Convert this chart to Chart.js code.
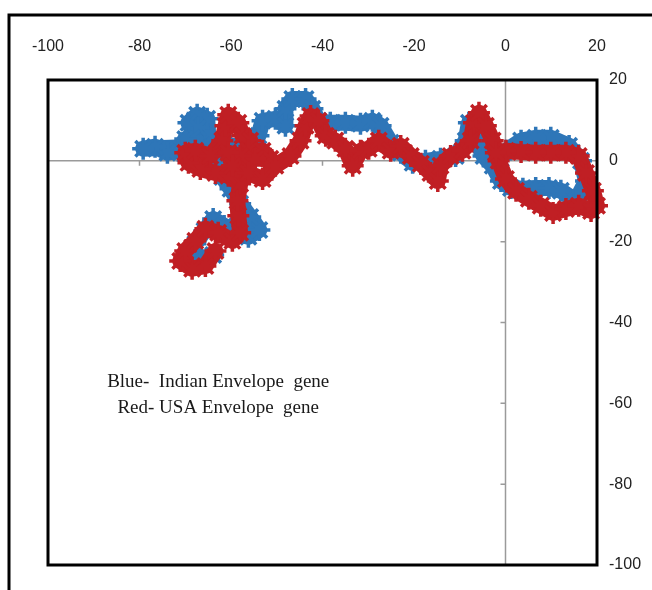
<!DOCTYPE html>
<html>
<head>
<meta charset="utf-8">
<script src="https://cdn.jsdelivr.net/npm/chart.js@4/dist/chart.umd.min.js"></script>
<style>
  html, body { margin: 0; padding: 0; background: #ffffff; }
  #wrap { width: 652px; height: 590px; position: relative; }
</style>
</head>
<body>
<div id="wrap"><canvas id="c" width="652" height="590"></canvas></div>
<script>
// ---- data ----
const xTicks = [-100, -80, -60, -40, -20, 0, 20];
const yTicks = [-100, -80, -60, -40, -20, 0, 20];

const blueX = [-63.9,-66.7,-69.6,-67.8,-65.8,-63.9,-61.5,-58.8,-56.2,-53.8,-55.8,-58.0,-60.1,-61.9,-63.4,-64.5,-66.7,-65.0,-65.2,-67.4,-69.3,-67.2,-68.5,-70.0,-71.5,-73.9,-76.6,-79.2,
  -63.4,-60.1,-56.9,-54.0,-53.1,-50.3,-48.1,-48.1,-46.6,-43.7,-42.2,-40.9,-38.3,-35.0,-31.7,-29.1,-27.3,-25.1,-22.9,-20.3,-17.5,-14.2,-10.9,-8.7,-8.0,-6.5,-4.8,-2.8,-1.0,1.2,3.8,6.6,9.5,12.1,15.4,17.6,16.5,13.9,9.9,6.6,3.4,0.1,-1.0];
const blueY = [-23.3,-24.3,-23.3,-20.5,-17.3,-14.4,-16.1,-18.1,-18.8,-17.1,-13.9,-10.6,-6.9,-4.0,-0.7,2.5,4.5,6.9,10.4,11.4,9.4,8.2,5.7,5.4,2.5,2.0,3.5,3.0,
  3.7,3.7,3.7,6.2,9.9,10.4,8.7,12.9,15.3,15.3,12.9,9.9,9.4,9.4,9.2,9.9,8.7,4.5,2.0,-0.5,0,0.5,1.2,5.0,9.4,5.0,1.2,-1.2,-5.0,-6.7,-6.9,-6.7,-6.7,-7.4,-9.9,-5.0,0,3.7,5.7,5.7,5.0,2.5,0.5];

const redX = [-63.4,-65.6,-68.5,-71.1,-70.0,-67.8,-65.6,-62.8,-59.7,-58.0,-58.4,-58.6,-58.0,-60.6,-63.4,-66.7,-69.3,-70.0,-67.8,-64.5,
  -61.9,-61.2,-60.6,-58.4,-57.5,-55.8,-56.2,-53.1,-51.4,-54.7,-58.0,-60.6,-59.7,-56.2,-53.1,-50.3,-47.0,-44.8,-43.7,-42.6,-40.9,-39.3,-37.2,-35.0,-33.4,
  -31.7,-29.9,-27.7,-25.1,-22.9,-20.7,-18.5,-16.4,-14.8,-14.2,-12.0,-9.4,-7.6,-6.9,-5.8,-4.3,-2.8,-1.5,0.1,2.3,
  5.1,7.7,10.4,13.2,16.0,18.7,20.0,19.1,17.6,16.0,13.2,9.9,6.6,3.4,0.1,-2.1];
const redY = [-22.3,-26.0,-26.7,-24.8,-22.3,-19.8,-16.8,-17.8,-19.8,-17.8,-13.6,-9.9,-5.7,-3.7,-3.0,-2.0,-0.5,2.0,2.5,1.2,
  5.0,8.7,11.4,9.4,6.2,5.0,2.5,2.5,0.5,0.5,1.2,2.0,-1.2,-3.0,-4.5,-1.2,1.2,5.0,8.7,11.1,9.9,6.2,5.0,3.0,-1.2,
  2.5,3.0,5.0,2.5,3.7,1.2,-0.7,-3.0,-5.0,-1.2,1.2,2.5,5.0,9.4,11.9,8.7,5.0,0,-4.5,-7.4,
  -9.4,-11.1,-12.9,-11.9,-11.1,-12.4,-11.1,-7.4,-3.0,1.2,2.0,2.0,2.0,2.2,2.5,2.0];

const noteLines = ["Blue-  Indian Envelope  gene", "Red- USA Envelope  gene"];
const noteX = -62.8;
const noteY = [-54.7, -61.1];

const BLUE = '#2e76b8';
const RED = '#c01f24';

function pts(xs, ys) { return xs.map((x, i) => ({ x: x, y: ys[i] })); }

const framePlugin = {
  id: 'frame',
  beforeDraw(chart) {
    const ctx = chart.ctx;
    ctx.save();
    ctx.fillStyle = '#ffffff';
    ctx.fillRect(0, 0, chart.width, chart.height);
    ctx.restore();
  },
  beforeDatasetsDraw(chart) {
    const ctx = chart.ctx, a = chart.chartArea;
    const xs = chart.scales.x, ys = chart.scales.y;
    const x0 = xs.getPixelForValue(0), y0 = ys.getPixelForValue(0);
    ctx.save();
    ctx.strokeStyle = '#9a9a9a';
    ctx.lineWidth = 1.5;
    ctx.beginPath();
    ctx.moveTo(x0, a.top); ctx.lineTo(x0, a.bottom);
    ctx.moveTo(a.left, y0); ctx.lineTo(a.right, y0);
    xTicks.forEach(v => { const p = xs.getPixelForValue(v); ctx.moveTo(p, y0); ctx.lineTo(p, y0 + 5); });
    yTicks.forEach(v => { const p = ys.getPixelForValue(v); ctx.moveTo(x0 - 5, p); ctx.lineTo(x0, p); });
    ctx.stroke();
    ctx.restore();
  },
  afterDatasetsDraw(chart) {
    const ctx = chart.ctx, a = chart.chartArea;
    const xs = chart.scales.x, ys = chart.scales.y;
    ctx.save();
    ctx.strokeStyle = '#000000';
    ctx.lineWidth = 3;
    ctx.strokeRect(a.left, a.top, a.right - a.left, a.bottom - a.top);
    ctx.fillStyle = '#1a1a1a';
    ctx.font = '19px "Liberation Serif", "Times New Roman", serif';
    ctx.textAlign = 'center';
    ctx.textBaseline = 'middle';
    noteLines.forEach((t, i) => ctx.fillText(t, xs.getPixelForValue(noteX), ys.getPixelForValue(noteY[i])));
    ctx.restore();
  },
  afterDraw(chart) {
    const ctx = chart.ctx;
    ctx.save();
    ctx.strokeStyle = '#000000';
    ctx.lineWidth = 3;
    ctx.beginPath();
    ctx.moveTo(9, chart.height + 5);
    ctx.lineTo(9, 15);
    ctx.lineTo(chart.width + 5, 15);
    ctx.stroke();
    ctx.restore();
  }
};

const tickFont = { family: '"Liberation Sans Narrow", "Arial Narrow", "Liberation Sans", sans-serif', size: 16 };

function series(label, xs, ys, color, order) {
  return {
    label: label,
    data: pts(xs, ys),
    showLine: true,
    borderColor: color,
    backgroundColor: color,
    borderWidth: 16,
    pointStyle: 'star',
    pointRadius: 11,
    pointBorderWidth: 3.5,
    pointBorderColor: color,
    order: order,
    clip: false
  };
}

new Chart(document.getElementById('c'), {
  type: 'scatter',
  data: {
    datasets: [
      series('Red- USA Envelope gene', redX, redY, RED, 0),
      series('Blue- Indian Envelope gene', blueX, blueY, BLUE, 1)
    ]
  },
  options: {
    responsive: false,
    animation: false,
    layout: { padding: { left: 48, right: 0, top: 0, bottom: 25 } },
    plugins: { legend: { display: false }, tooltip: { enabled: false } },
    elements: { line: { tension: 0, borderJoinStyle: 'round', borderCapStyle: 'round' } },
    scales: {
      x: {
        type: 'linear',
        position: 'top',
        min: -100, max: 20,
        afterBuildTicks: s => { s.ticks = xTicks.map(v => ({ value: v })); },
        afterFit: s => { s.height = 80; },
        grid: { display: false, drawTicks: false },
        border: { display: false },
        ticks: { color: '#222', font: tickFont, padding: 24, maxRotation: 0 }
      },
      y: {
        type: 'linear',
        position: 'right',
        min: -100, max: 20,
        afterBuildTicks: s => { s.ticks = yTicks.map(v => ({ value: v })); },
        afterFit: s => { s.width = 55; },
        grid: { display: false, drawTicks: false },
        border: { display: false },
        ticks: { color: '#222', font: tickFont, padding: 12 }
      }
    }
  },
  plugins: [framePlugin]
});
</script>
</body>
</html>
